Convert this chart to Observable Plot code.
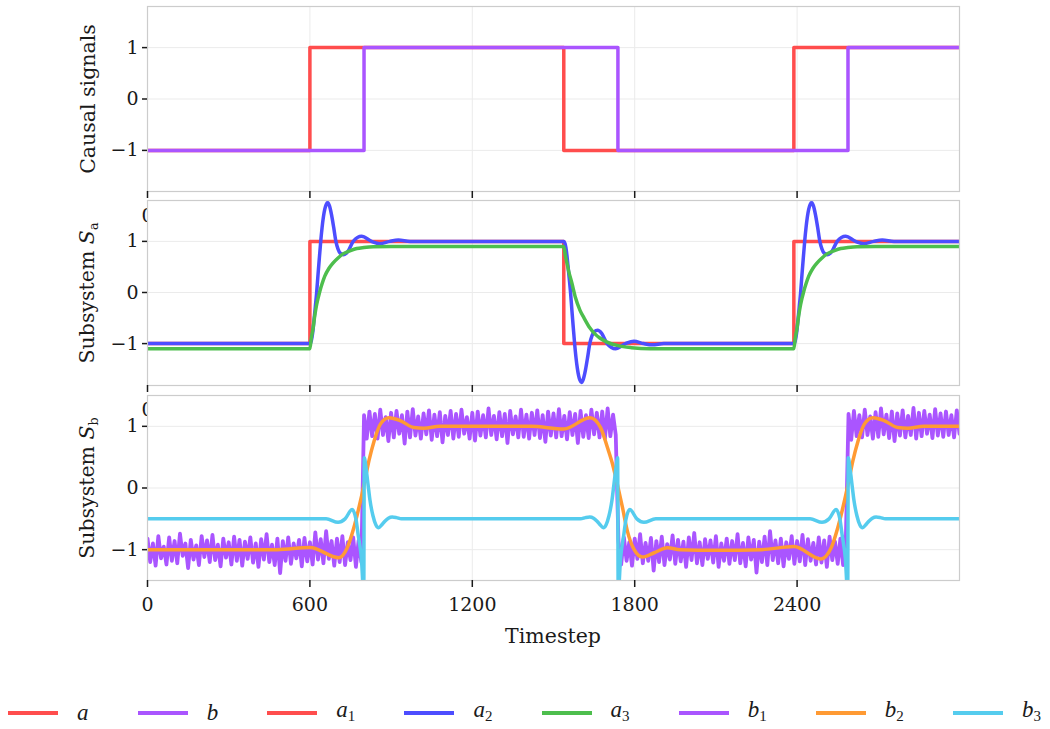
<!DOCTYPE html>
<html><head><meta charset="utf-8">
<script src="https://cdn.jsdelivr.net/npm/d3@7"></script>
<script src="https://cdn.jsdelivr.net/npm/@observablehq/plot@0.6"></script>
<style>
body{margin:0;background:#fff;}
#root{position:relative;width:1050px;height:729px;overflow:hidden;font-family:"DejaVu Serif",serif;color:#1a1a1a;}
.panel{position:absolute;left:0;}
.ylab{position:absolute;left:88px;transform:translate(-50%,-50%) rotate(-90deg);white-space:nowrap;font-size:20.5px;}
.ylab sub{font-size:0.62em;vertical-align:-0.25em;font-style:normal;}
.xlab{position:absolute;left:553px;top:636px;transform:translate(-50%,-50%);font-size:20.5px;white-space:nowrap;}
#legend{position:absolute;left:0;top:700px;width:1050px;height:26px;box-sizing:border-box;padding:0 9px 0 8px;display:flex;justify-content:space-between;align-items:center;}
.item{display:flex;align-items:center;}
.sw{display:inline-block;width:50px;height:4px;margin-right:19px;}
.lab{font-family:"Liberation Serif",serif;font-style:italic;font-size:23px;line-height:26px;}
.lab sub{font-style:normal;font-size:15px;vertical-align:-4px;}
</style></head><body><div id="root"></div><script>
const xDomain = [0, 3000];
const xTicks = [0, 600, 1200, 1800, 2400];
const yTicks = [-1, 0, 1];

// Panel 1: causal signals (step functions, [timestep, value])
const aSignal = [[0,-1],[600,1],[1538,-1],[2388,1],[3000,1]];
const bSignal = [[0,-1],[800,1],[1738,-1],[2588,1],[3000,1]];

// Panel 2: subsystem S_a
const a1Signal = [[0,-1],[600,1],[1538,-1],[2388,1],[3000,1]];
const a2Series = [[0,-1],[600,-1],[605,-0.95],[610,-0.8],[615,-0.55],[620,-0.28],[625,0],[630,0.35],[635,0.68],[640,1],[645,1.27],[650,1.48],[655,1.63],[660,1.72],[665,1.76],[672,1.7],[680,1.52],[688,1.27],[696,1],[704,0.85],[712,0.77],[725,0.74],[740,0.8],[760,1],[791,1.1],[828,1],[859,0.955],[895,1],[927,1.025],[970,1],[1538,1],
[1543,0.95],[1548,0.8],[1553,0.55],[1558,0.28],[1563,0],[1568,-0.35],[1573,-0.68],[1578,-1],[1583,-1.27],[1588,-1.48],[1593,-1.63],[1598,-1.72],[1603,-1.76],[1610,-1.7],[1618,-1.52],[1626,-1.27],[1634,-1],[1642,-0.85],[1650,-0.77],[1663,-0.74],[1678,-0.8],[1698,-1],[1729,-1.1],[1766,-1],[1797,-0.955],[1833,-1],[1865,-1.025],[1908,-1],[2388,-1],
[2393,-0.95],[2398,-0.8],[2403,-0.55],[2408,-0.28],[2413,0],[2418,0.35],[2423,0.68],[2428,1],[2433,1.27],[2438,1.48],[2443,1.63],[2448,1.72],[2453,1.76],[2460,1.7],[2468,1.52],[2476,1.27],[2484,1],[2492,0.85],[2500,0.77],[2513,0.74],[2528,0.8],[2548,1],[2579,1.1],[2616,1],[2647,0.955],[2683,1],[2715,1.025],[2758,1],[3000,1]];
const a3Series = [[0,-1.1],[600,-1.1],[605,-0.9],[612,-0.69],[618,-0.45],[625,-0.235],[637,0.03],[645,0.17],[655,0.32],[670,0.47],[686,0.58],[705,0.68],[724,0.76],[750,0.82],[773,0.86],[800,0.88],[834,0.895],[900,0.9],[1538,0.9],
[1544,0.72],[1550,0.57],[1556,0.42],[1568,0.18],[1581,-0.1],[1598,-0.35],[1613,-0.5],[1634,-0.69],[1653,-0.81],[1671,-0.89],[1698,-0.97],[1738,-1.04],[1788,-1.08],[1858,-1.1],[2388,-1.1],
[2393,-0.9],[2400,-0.69],[2406,-0.45],[2413,-0.235],[2425,0.03],[2433,0.17],[2443,0.32],[2458,0.47],[2474,0.58],[2493,0.68],[2512,0.76],[2538,0.82],[2561,0.86],[2588,0.88],[2622,0.895],[2688,0.9],[3000,0.9]];

// Panel 3: subsystem S_b
const b1Step = 10; // noisy b1 sampled every 10 timesteps
const b1Low1 = [-0.82,-1.2,-0.9,-1.26,-0.78,-1.14,-0.95,-1.24,-0.8,-1.18,
-0.86,-1.22,-0.74,-1.1,-0.9,-1.3,-0.84,-1.16,-0.93,-1.25,
-0.78,-1.12,-0.85,-1.2,-0.76,-1.17,-0.92,-1.27,-0.82,-1.13,
-0.88,-1.24,-0.79,-1.18,-0.84,-1.26,-0.87,-1.15,-0.8,-1.21,
-0.9,-1.28,-0.83,-1.16,-0.75,-1.2,-0.92,-1.25,-0.82,-1.38,
-0.86,-1.18,-0.8,-1.23,-0.9,-1.14,-0.84,-1.27,-0.81,-1.19,
-0.88,-1.24,-0.72,-1.16,-0.83,-1.22,-0.7,-1.15,-0.86,-1.26,
-0.82,-1.2,-0.78,-1.25,-0.88,-1.17,-0.8,-1.28,-0.85,-1.2];
const b1High1 = [1.18,0.8,1.24,0.84,1.2,0.8,1.27,0.86,1.15,0.76,
1.22,0.82,1.25,0.88,1.18,0.72,1.24,0.82,1.28,0.85,
1.16,0.8,1.21,0.87,1.26,0.78,1.19,0.84,1.23,0.74,
1.17,0.86,1.25,0.8,1.2,0.83,1.27,0.88,1.15,0.8,
1.22,0.77,1.24,0.85,1.18,0.82,1.29,0.86,1.17,0.79,
1.23,0.84,1.2,0.73,1.25,0.87,1.16,0.82,1.27,0.83,
1.19,0.8,1.22,0.86,1.26,0.81,1.18,0.75,1.24,0.85,
1.21,0.82,1.28,0.84,1.17,0.79,1.23,0.86,1.2,0.73,
1.25,0.83,1.18,0.81,1.27,0.87,1.22,0.82,1.24,0.8,
1.29,0.84,1.19,0.86];
const b1Low2 = [-0.86,-1.24,-0.8,-1.18,-0.88,-1.26,-0.82,-1.15,-0.75,-1.22,
-0.89,-1.18,-0.81,-1.34,-0.86,-1.2,-0.79,-1.25,-0.91,-1.16,
-0.77,-1.23,-0.84,-1.19,-0.87,-1.28,-0.8,-1.17,-0.73,-1.22,
-0.88,-1.25,-0.83,-1.15,-0.85,-1.21,-0.78,-1.28,-0.9,-1.18,
-0.82,-1.23,-0.86,-1.17,-0.75,-1.22,-0.89,-1.27,-0.8,-1.16,
-0.84,-1.37,-0.87,-1.2,-0.79,-1.25,-0.7,-1.17,-0.85,-1.22,
-0.82,-1.27,-0.88,-1.15,-0.78,-1.23,-0.86,-1.19,-0.76,-1.25,
-0.83,-1.18,-0.89,-1.24,-0.8,-1.21,-0.85,-1.28,-0.79,-1.17,
-0.87,-1.23,-0.82,-1.25,-0.86];
const b1High2 = [1.2,0.78,1.25,0.84,1.18,0.82,1.27,0.86,1.16,0.8,
1.23,0.83,1.29,0.87,1.19,0.81,1.24,0.76,1.21,0.85,
1.26,0.82,1.17,0.86,1.3,0.8,1.22,0.84,1.25,0.88,
1.19,0.81,1.28,0.85,1.21,0.83,1.24,0.86,1.18,0.82,
1.26,0.88];
const b2Series = [[0,-1],[480,-1],[600,-0.965],[707,-1.13],[738,-0.97],[762,-0.65],[781,-0.32],[800,0.05],[818,0.44],[837,0.76],[861,1.04],[892,1.14],[935,1.09],[984,0.98],[1021,0.97],[1080,1],
[1418,1],[1538,0.955],[1635,1.14],[1674,0.98],[1699,0.66],[1718,0.39],[1736,0.06],[1755,-0.32],[1773,-0.7],[1798,-1],[1829,-1.12],[1872,-1.05],[1921,-0.97],[1968,-1],[2100,-1.01],
[2268,-1],[2388,-0.95],[2488,-1.15],[2526,-0.97],[2550,-0.65],[2569,-0.32],[2588,0.05],[2606,0.44],[2625,0.76],[2649,1.04],[2680,1.14],[2723,1.09],[2772,0.98],[2809,0.97],[2868,1],[3000,1]];
const b3Series = [[0,-0.5],[660,-0.5],[704,-0.555],[730,-0.5],[756,-0.35],[770,-0.5],[778,-0.75],[790,-1.13],[799,-1.7],[801,0.49],[808,0.3],[815,0.05],[822,-0.2],[833,-0.45],[844,-0.6],[854,-0.645],[865,-0.6],[877,-0.54],[890,-0.49],[904,-0.47],[920,-0.48],[938,-0.5],
[1600,-0.5],[1618,-0.48],[1634,-0.47],[1648,-0.49],[1661,-0.54],[1673,-0.6],[1684,-0.645],[1694,-0.6],[1705,-0.45],[1716,-0.2],[1723,0.05],[1730,0.3],[1737,0.49],[1739,-1.7],[1748,-1.13],[1760,-0.75],[1768,-0.5],[1782,-0.35],[1808,-0.5],[1834,-0.555],[1878,-0.5],
[2448,-0.5],[2492,-0.555],[2518,-0.5],[2544,-0.35],[2558,-0.5],[2566,-0.75],[2578,-1.13],[2587,-1.7],[2589,0.49],[2596,0.3],[2603,0.05],[2610,-0.2],[2621,-0.45],[2632,-0.6],[2642,-0.645],[2653,-0.6],[2665,-0.54],[2678,-0.49],[2692,-0.47],[2708,-0.48],[2726,-0.5],[3000,-0.5]];

const legendNames = [["a",""],["b",""],["a","1"],["a","2"],["a","3"],["b","1"],["b","2"],["b","3"]];
const legendColors = ["#FF4D4D","#AA55FF","#FF4D4D","#4D4DFF","#4DBE4D","#AA55FF","#FF9A33","#55CCEE"];

const C = {red:"#FF4D4D", purple:"#AA55FF", blue:"#4D4DFF", green:"#4DBE4D", orange:"#FF9A33", cyan:"#55CCEE"};
const rows = pts => pts.map(([t, v]) => ({t, v}));
const b1Rows = [...b1Low1, ...b1High1, ...b1Low2, ...b1High2].map((v, i) => ({t: i * b1Step, v}));
const fmtY = d => (d < 0 ? "\u2212" : "") + Math.abs(d);
const fmtX = d => String(d);

function makePanel(yDomain, layers, marginBottom) {
  return Plot.plot({
    width: 1050, height: 6 + 185 + marginBottom,
    marginTop: 6, marginLeft: 147, marginRight: 91, marginBottom,
    x: {domain: xDomain},
    y: {domain: yDomain},
    style: {background: "transparent", fontFamily: "'DejaVu Serif', serif", fontSize: "19px", color: "#1a1a1a", overflow: "visible"},
    marks: [
      Plot.frame({fill: "white", stroke: "none"}),
      Plot.gridX(xTicks, {stroke: "#ebebeb", strokeOpacity: 1, strokeWidth: 1}),
      Plot.gridY(yTicks, {stroke: "#ebebeb", strokeOpacity: 1, strokeWidth: 1}),
      ...layers.map(l => Plot.line(l.data, {x: "t", y: "v", stroke: l.color, strokeWidth: l.w || 3.5, curve: l.curve, clip: true})),
      Plot.frame({stroke: "#cccccc", strokeWidth: 1.2}),
      Plot.axisX(xTicks, {tickSize: 7, tickPadding: 10, fontSize: 19, strokeWidth: 1.5, tickFormat: fmtX, label: null}),
      Plot.axisY(yTicks, {tickSize: 5, tickPadding: 4, fontSize: 19, strokeWidth: 1.5, tickFormat: fmtY, label: null})
    ]
  });
}

const root = document.getElementById("root");
const p1 = makePanel([-1.8, 1.8], [
  {data: rows(aSignal), color: C.red, curve: "step-after"},
  {data: rows(bSignal), color: C.purple, curve: "step-after"}
], 40);
const p2 = makePanel([-1.82, 1.8], [
  {data: rows(a1Signal), color: C.red, curve: "step-after"},
  {data: rows(a2Series), color: C.blue, curve: "monotone-x"},
  {data: rows(a3Series), color: C.green, curve: "monotone-x"}
], 40);
const p3 = makePanel([-1.5, 1.5], [
  {data: b1Rows, color: C.purple, curve: "linear", w: 3.8},
  {data: rows(b2Series), color: C.orange, curve: "monotone-x"},
  {data: rows(b3Series), color: C.cyan, curve: "monotone-x"}
], 70);
[[p1, 0], [p2, 194], [p3, 389]].forEach(([svg, top]) => {
  svg.classList.add("panel");
  svg.style.position = "absolute";
  svg.style.top = top + "px";
  svg.style.left = "0px";
  root.appendChild(svg);
});

function addDiv(cls, html, styleTop) {
  const d = document.createElement("div");
  d.className = cls; d.innerHTML = html;
  if (styleTop != null) d.style.top = styleTop + "px";
  root.appendChild(d);
}
addDiv("ylab", "Causal signals", 98.5);
addDiv("ylab", "Subsystem <i>S</i><sub>a</sub>", 292.5);
addDiv("ylab", "Subsystem <i>S</i><sub>b</sub>", 487.5);
addDiv("xlab", "Timestep");

const legend = document.createElement("div");
legend.id = "legend";
legendNames.forEach(([base, sub], i) => {
  const it = document.createElement("div");
  it.className = "item";
  it.innerHTML = `<span class="sw" style="background:${legendColors[i]}"></span><span class="lab">${base}${sub ? `<sub>${sub}</sub>` : ""}</span>`;
  legend.appendChild(it);
});
root.appendChild(legend);
</script></body></html>
